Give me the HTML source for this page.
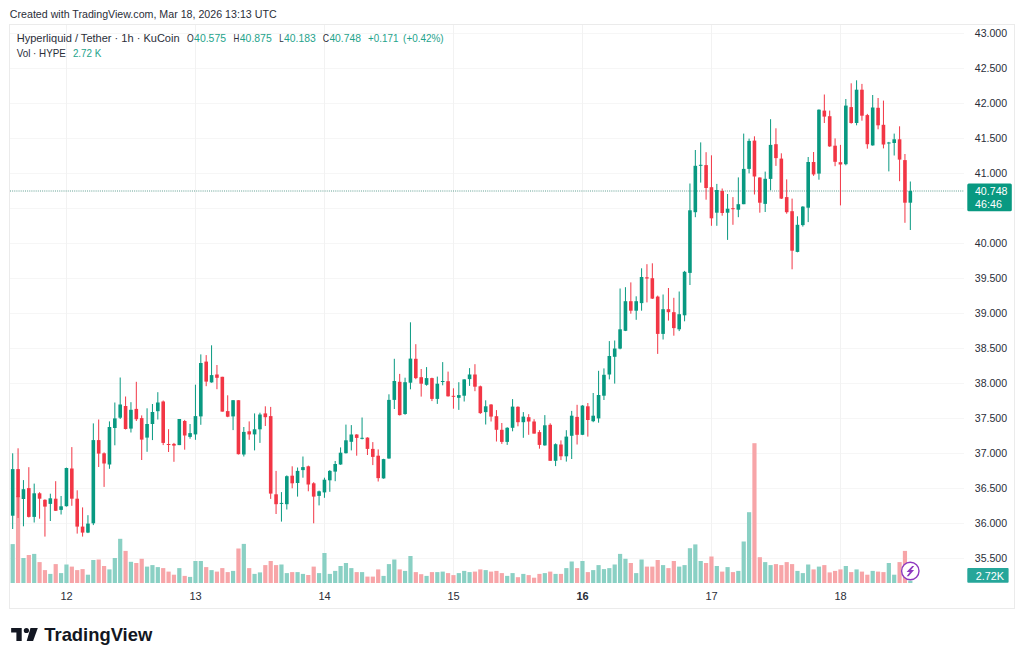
<!DOCTYPE html><html><head><meta charset="utf-8"><style>html,body{margin:0;padding:0;background:#fff;width:1024px;height:662px;overflow:hidden}svg{display:block}text{font-family:"Liberation Sans",sans-serif}</style></head><body>
<svg width="1024" height="662" viewBox="0 0 1024 662">
<rect width="1024" height="662" fill="#fff"/>
<text x="9.8" y="17.9" font-size="11" fill="#2a2e39" textLength="266.8" lengthAdjust="spacingAndGlyphs">Created with TradingView.com, Mar 18, 2026 13:13 UTC</text>
<rect x="9.5" y="24.5" width="1005" height="584" fill="none" stroke="#ebebeb" stroke-width="1"/>
<line x1="10" y1="33.5" x2="964" y2="33.5" stroke="#f6f6f6" stroke-width="1"/>
<line x1="10" y1="68.5" x2="964" y2="68.5" stroke="#f6f6f6" stroke-width="1"/>
<line x1="10" y1="103.5" x2="964" y2="103.5" stroke="#f6f6f6" stroke-width="1"/>
<line x1="10" y1="138.5" x2="964" y2="138.5" stroke="#f6f6f6" stroke-width="1"/>
<line x1="10" y1="173.5" x2="964" y2="173.5" stroke="#f6f6f6" stroke-width="1"/>
<line x1="10" y1="208.5" x2="964" y2="208.5" stroke="#f6f6f6" stroke-width="1"/>
<line x1="10" y1="243.5" x2="964" y2="243.5" stroke="#f6f6f6" stroke-width="1"/>
<line x1="10" y1="278.5" x2="964" y2="278.5" stroke="#f6f6f6" stroke-width="1"/>
<line x1="10" y1="313.5" x2="964" y2="313.5" stroke="#f6f6f6" stroke-width="1"/>
<line x1="10" y1="348.5" x2="964" y2="348.5" stroke="#f6f6f6" stroke-width="1"/>
<line x1="10" y1="383.5" x2="964" y2="383.5" stroke="#f6f6f6" stroke-width="1"/>
<line x1="10" y1="418.5" x2="964" y2="418.5" stroke="#f6f6f6" stroke-width="1"/>
<line x1="10" y1="453.5" x2="964" y2="453.5" stroke="#f6f6f6" stroke-width="1"/>
<line x1="10" y1="488.5" x2="964" y2="488.5" stroke="#f6f6f6" stroke-width="1"/>
<line x1="10" y1="523.5" x2="964" y2="523.5" stroke="#f6f6f6" stroke-width="1"/>
<line x1="10" y1="558.5" x2="964" y2="558.5" stroke="#f6f6f6" stroke-width="1"/>
<line x1="66.5" y1="25" x2="66.5" y2="584" stroke="#f2f2f2" stroke-width="1"/>
<line x1="195.5" y1="25" x2="195.5" y2="584" stroke="#f2f2f2" stroke-width="1"/>
<line x1="324.5" y1="25" x2="324.5" y2="584" stroke="#f2f2f2" stroke-width="1"/>
<line x1="453.5" y1="25" x2="453.5" y2="584" stroke="#f2f2f2" stroke-width="1"/>
<line x1="582.5" y1="25" x2="582.5" y2="584" stroke="#f2f2f2" stroke-width="1"/>
<line x1="711.5" y1="25" x2="711.5" y2="584" stroke="#f2f2f2" stroke-width="1"/>
<line x1="840.5" y1="25" x2="840.5" y2="584" stroke="#f2f2f2" stroke-width="1"/>
<rect x="10.60" y="544.10" width="4.2" height="38.90" fill="#8ad0c4"/>
<rect x="15.97" y="495.80" width="4.2" height="87.20" fill="#f7a5a8"/>
<rect x="21.35" y="558.00" width="4.2" height="25.00" fill="#8ad0c4"/>
<rect x="26.72" y="555.00" width="4.2" height="28.00" fill="#f7a5a8"/>
<rect x="32.10" y="553.90" width="4.2" height="29.10" fill="#8ad0c4"/>
<rect x="37.48" y="562.10" width="4.2" height="20.90" fill="#f7a5a8"/>
<rect x="42.85" y="570.10" width="4.2" height="12.90" fill="#f7a5a8"/>
<rect x="48.23" y="573.90" width="4.2" height="9.10" fill="#8ad0c4"/>
<rect x="53.60" y="564.10" width="4.2" height="18.90" fill="#f7a5a8"/>
<rect x="58.98" y="573.10" width="4.2" height="9.90" fill="#8ad0c4"/>
<rect x="64.35" y="564.50" width="4.2" height="18.50" fill="#8ad0c4"/>
<rect x="69.73" y="566.60" width="4.2" height="16.40" fill="#f7a5a8"/>
<rect x="75.10" y="570.10" width="4.2" height="12.90" fill="#f7a5a8"/>
<rect x="80.48" y="569.10" width="4.2" height="13.90" fill="#f7a5a8"/>
<rect x="85.85" y="574.70" width="4.2" height="8.30" fill="#8ad0c4"/>
<rect x="91.23" y="560.00" width="4.2" height="23.00" fill="#8ad0c4"/>
<rect x="96.60" y="559.50" width="4.2" height="23.50" fill="#f7a5a8"/>
<rect x="101.98" y="566.00" width="4.2" height="17.00" fill="#f7a5a8"/>
<rect x="107.35" y="569.40" width="4.2" height="13.60" fill="#8ad0c4"/>
<rect x="112.73" y="558.00" width="4.2" height="25.00" fill="#8ad0c4"/>
<rect x="118.10" y="538.80" width="4.2" height="44.20" fill="#8ad0c4"/>
<rect x="123.48" y="550.90" width="4.2" height="32.10" fill="#f7a5a8"/>
<rect x="128.85" y="561.80" width="4.2" height="21.20" fill="#8ad0c4"/>
<rect x="134.22" y="563.00" width="4.2" height="20.00" fill="#f7a5a8"/>
<rect x="139.60" y="558.80" width="4.2" height="24.20" fill="#f7a5a8"/>
<rect x="144.97" y="566.60" width="4.2" height="16.40" fill="#8ad0c4"/>
<rect x="150.35" y="565.10" width="4.2" height="17.90" fill="#8ad0c4"/>
<rect x="155.72" y="567.10" width="4.2" height="15.90" fill="#8ad0c4"/>
<rect x="161.10" y="568.10" width="4.2" height="14.90" fill="#f7a5a8"/>
<rect x="166.47" y="571.60" width="4.2" height="11.40" fill="#f7a5a8"/>
<rect x="171.85" y="574.70" width="4.2" height="8.30" fill="#f7a5a8"/>
<rect x="177.22" y="568.10" width="4.2" height="14.90" fill="#8ad0c4"/>
<rect x="182.60" y="575.90" width="4.2" height="7.10" fill="#f7a5a8"/>
<rect x="187.97" y="576.90" width="4.2" height="6.10" fill="#8ad0c4"/>
<rect x="193.35" y="561.00" width="4.2" height="22.00" fill="#8ad0c4"/>
<rect x="198.72" y="561.00" width="4.2" height="22.00" fill="#8ad0c4"/>
<rect x="204.10" y="567.10" width="4.2" height="15.90" fill="#f7a5a8"/>
<rect x="209.47" y="570.10" width="4.2" height="12.90" fill="#8ad0c4"/>
<rect x="214.85" y="571.60" width="4.2" height="11.40" fill="#f7a5a8"/>
<rect x="220.22" y="568.10" width="4.2" height="14.90" fill="#f7a5a8"/>
<rect x="225.60" y="572.10" width="4.2" height="10.90" fill="#f7a5a8"/>
<rect x="230.97" y="570.90" width="4.2" height="12.10" fill="#8ad0c4"/>
<rect x="236.35" y="548.50" width="4.2" height="34.50" fill="#f7a5a8"/>
<rect x="241.72" y="543.90" width="4.2" height="39.10" fill="#8ad0c4"/>
<rect x="247.10" y="568.10" width="4.2" height="14.90" fill="#f7a5a8"/>
<rect x="252.47" y="573.90" width="4.2" height="9.10" fill="#8ad0c4"/>
<rect x="257.85" y="572.40" width="4.2" height="10.60" fill="#8ad0c4"/>
<rect x="263.22" y="565.10" width="4.2" height="17.90" fill="#f7a5a8"/>
<rect x="268.60" y="561.00" width="4.2" height="22.00" fill="#f7a5a8"/>
<rect x="273.97" y="565.10" width="4.2" height="17.90" fill="#f7a5a8"/>
<rect x="279.35" y="564.50" width="4.2" height="18.50" fill="#8ad0c4"/>
<rect x="284.72" y="573.10" width="4.2" height="9.90" fill="#8ad0c4"/>
<rect x="290.10" y="572.10" width="4.2" height="10.90" fill="#f7a5a8"/>
<rect x="295.47" y="572.10" width="4.2" height="10.90" fill="#8ad0c4"/>
<rect x="300.85" y="573.90" width="4.2" height="9.10" fill="#8ad0c4"/>
<rect x="306.22" y="575.00" width="4.2" height="8.00" fill="#f7a5a8"/>
<rect x="311.60" y="566.60" width="4.2" height="16.40" fill="#f7a5a8"/>
<rect x="316.97" y="573.10" width="4.2" height="9.90" fill="#8ad0c4"/>
<rect x="322.35" y="553.00" width="4.2" height="30.00" fill="#8ad0c4"/>
<rect x="327.72" y="573.90" width="4.2" height="9.10" fill="#8ad0c4"/>
<rect x="333.10" y="570.90" width="4.2" height="12.10" fill="#8ad0c4"/>
<rect x="338.47" y="566.00" width="4.2" height="17.00" fill="#8ad0c4"/>
<rect x="343.85" y="563.00" width="4.2" height="20.00" fill="#8ad0c4"/>
<rect x="349.22" y="568.10" width="4.2" height="14.90" fill="#8ad0c4"/>
<rect x="354.60" y="572.10" width="4.2" height="10.90" fill="#f7a5a8"/>
<rect x="359.97" y="572.10" width="4.2" height="10.90" fill="#8ad0c4"/>
<rect x="365.35" y="576.60" width="4.2" height="6.40" fill="#f7a5a8"/>
<rect x="370.72" y="576.60" width="4.2" height="6.40" fill="#f7a5a8"/>
<rect x="376.10" y="569.40" width="4.2" height="13.60" fill="#f7a5a8"/>
<rect x="381.47" y="575.90" width="4.2" height="7.10" fill="#8ad0c4"/>
<rect x="386.85" y="564.10" width="4.2" height="18.90" fill="#8ad0c4"/>
<rect x="392.22" y="559.50" width="4.2" height="23.50" fill="#8ad0c4"/>
<rect x="397.60" y="569.40" width="4.2" height="13.60" fill="#f7a5a8"/>
<rect x="402.97" y="570.90" width="4.2" height="12.10" fill="#8ad0c4"/>
<rect x="408.35" y="556.00" width="4.2" height="27.00" fill="#8ad0c4"/>
<rect x="413.72" y="572.10" width="4.2" height="10.90" fill="#f7a5a8"/>
<rect x="419.10" y="574.20" width="4.2" height="8.80" fill="#f7a5a8"/>
<rect x="424.47" y="575.90" width="4.2" height="7.10" fill="#8ad0c4"/>
<rect x="429.85" y="572.10" width="4.2" height="10.90" fill="#f7a5a8"/>
<rect x="435.22" y="572.10" width="4.2" height="10.90" fill="#8ad0c4"/>
<rect x="440.60" y="571.60" width="4.2" height="11.40" fill="#8ad0c4"/>
<rect x="445.97" y="573.10" width="4.2" height="9.90" fill="#f7a5a8"/>
<rect x="451.35" y="575.10" width="4.2" height="7.90" fill="#f7a5a8"/>
<rect x="456.72" y="573.10" width="4.2" height="9.90" fill="#8ad0c4"/>
<rect x="462.10" y="570.90" width="4.2" height="12.10" fill="#8ad0c4"/>
<rect x="467.47" y="572.10" width="4.2" height="10.90" fill="#8ad0c4"/>
<rect x="472.85" y="571.60" width="4.2" height="11.40" fill="#f7a5a8"/>
<rect x="478.22" y="569.40" width="4.2" height="13.60" fill="#f7a5a8"/>
<rect x="483.60" y="570.10" width="4.2" height="12.90" fill="#8ad0c4"/>
<rect x="488.97" y="571.60" width="4.2" height="11.40" fill="#f7a5a8"/>
<rect x="494.35" y="570.90" width="4.2" height="12.10" fill="#f7a5a8"/>
<rect x="499.72" y="573.10" width="4.2" height="9.90" fill="#f7a5a8"/>
<rect x="505.10" y="575.90" width="4.2" height="7.10" fill="#8ad0c4"/>
<rect x="510.48" y="573.10" width="4.2" height="9.90" fill="#8ad0c4"/>
<rect x="515.85" y="577.20" width="4.2" height="5.80" fill="#f7a5a8"/>
<rect x="521.23" y="573.90" width="4.2" height="9.10" fill="#8ad0c4"/>
<rect x="526.60" y="575.10" width="4.2" height="7.90" fill="#f7a5a8"/>
<rect x="531.98" y="577.70" width="4.2" height="5.30" fill="#f7a5a8"/>
<rect x="537.35" y="573.90" width="4.2" height="9.10" fill="#f7a5a8"/>
<rect x="542.73" y="573.10" width="4.2" height="9.90" fill="#8ad0c4"/>
<rect x="548.10" y="571.60" width="4.2" height="11.40" fill="#f7a5a8"/>
<rect x="553.48" y="573.90" width="4.2" height="9.10" fill="#8ad0c4"/>
<rect x="558.85" y="573.90" width="4.2" height="9.10" fill="#f7a5a8"/>
<rect x="564.23" y="568.10" width="4.2" height="14.90" fill="#8ad0c4"/>
<rect x="569.60" y="561.50" width="4.2" height="21.50" fill="#8ad0c4"/>
<rect x="574.98" y="568.10" width="4.2" height="14.90" fill="#f7a5a8"/>
<rect x="580.35" y="561.00" width="4.2" height="22.00" fill="#8ad0c4"/>
<rect x="585.73" y="572.10" width="4.2" height="10.90" fill="#f7a5a8"/>
<rect x="591.10" y="570.10" width="4.2" height="12.90" fill="#8ad0c4"/>
<rect x="596.48" y="565.10" width="4.2" height="17.90" fill="#8ad0c4"/>
<rect x="601.85" y="569.10" width="4.2" height="13.90" fill="#8ad0c4"/>
<rect x="607.23" y="568.10" width="4.2" height="14.90" fill="#8ad0c4"/>
<rect x="612.60" y="564.50" width="4.2" height="18.50" fill="#8ad0c4"/>
<rect x="617.98" y="553.90" width="4.2" height="29.10" fill="#8ad0c4"/>
<rect x="623.35" y="558.80" width="4.2" height="24.20" fill="#8ad0c4"/>
<rect x="628.73" y="563.00" width="4.2" height="20.00" fill="#f7a5a8"/>
<rect x="634.10" y="573.10" width="4.2" height="9.90" fill="#8ad0c4"/>
<rect x="639.48" y="559.50" width="4.2" height="23.50" fill="#8ad0c4"/>
<rect x="644.85" y="566.60" width="4.2" height="16.40" fill="#f7a5a8"/>
<rect x="650.23" y="566.60" width="4.2" height="16.40" fill="#f7a5a8"/>
<rect x="655.60" y="560.00" width="4.2" height="23.00" fill="#f7a5a8"/>
<rect x="660.98" y="565.10" width="4.2" height="17.90" fill="#8ad0c4"/>
<rect x="666.35" y="568.10" width="4.2" height="14.90" fill="#f7a5a8"/>
<rect x="671.73" y="561.00" width="4.2" height="22.00" fill="#f7a5a8"/>
<rect x="677.10" y="566.60" width="4.2" height="16.40" fill="#8ad0c4"/>
<rect x="682.48" y="565.10" width="4.2" height="17.90" fill="#8ad0c4"/>
<rect x="687.85" y="548.20" width="4.2" height="34.80" fill="#8ad0c4"/>
<rect x="693.23" y="544.40" width="4.2" height="38.60" fill="#8ad0c4"/>
<rect x="698.60" y="561.00" width="4.2" height="22.00" fill="#8ad0c4"/>
<rect x="703.98" y="563.00" width="4.2" height="20.00" fill="#f7a5a8"/>
<rect x="709.35" y="556.50" width="4.2" height="26.50" fill="#f7a5a8"/>
<rect x="714.73" y="566.00" width="4.2" height="17.00" fill="#8ad0c4"/>
<rect x="720.10" y="571.60" width="4.2" height="11.40" fill="#f7a5a8"/>
<rect x="725.48" y="567.10" width="4.2" height="15.90" fill="#8ad0c4"/>
<rect x="730.85" y="572.10" width="4.2" height="10.90" fill="#f7a5a8"/>
<rect x="736.23" y="570.90" width="4.2" height="12.10" fill="#8ad0c4"/>
<rect x="741.60" y="541.50" width="4.2" height="41.50" fill="#8ad0c4"/>
<rect x="746.98" y="512.20" width="4.2" height="70.80" fill="#8ad0c4"/>
<rect x="752.35" y="443.20" width="4.2" height="139.80" fill="#f7a5a8"/>
<rect x="757.73" y="557.20" width="4.2" height="25.80" fill="#f7a5a8"/>
<rect x="763.10" y="562.10" width="4.2" height="20.90" fill="#8ad0c4"/>
<rect x="768.48" y="565.10" width="4.2" height="17.90" fill="#8ad0c4"/>
<rect x="773.85" y="564.10" width="4.2" height="18.90" fill="#f7a5a8"/>
<rect x="779.23" y="565.10" width="4.2" height="17.90" fill="#f7a5a8"/>
<rect x="784.60" y="562.10" width="4.2" height="20.90" fill="#f7a5a8"/>
<rect x="789.98" y="564.10" width="4.2" height="18.90" fill="#f7a5a8"/>
<rect x="795.35" y="570.90" width="4.2" height="12.10" fill="#8ad0c4"/>
<rect x="800.73" y="573.10" width="4.2" height="9.90" fill="#8ad0c4"/>
<rect x="806.10" y="564.50" width="4.2" height="18.50" fill="#8ad0c4"/>
<rect x="811.48" y="569.40" width="4.2" height="13.60" fill="#f7a5a8"/>
<rect x="816.85" y="566.60" width="4.2" height="16.40" fill="#8ad0c4"/>
<rect x="822.23" y="565.10" width="4.2" height="17.90" fill="#f7a5a8"/>
<rect x="827.60" y="572.40" width="4.2" height="10.60" fill="#f7a5a8"/>
<rect x="832.98" y="570.90" width="4.2" height="12.10" fill="#f7a5a8"/>
<rect x="838.35" y="569.40" width="4.2" height="13.60" fill="#f7a5a8"/>
<rect x="843.73" y="566.00" width="4.2" height="17.00" fill="#8ad0c4"/>
<rect x="849.10" y="572.10" width="4.2" height="10.90" fill="#f7a5a8"/>
<rect x="854.48" y="569.40" width="4.2" height="13.60" fill="#8ad0c4"/>
<rect x="859.85" y="571.60" width="4.2" height="11.40" fill="#f7a5a8"/>
<rect x="865.23" y="574.70" width="4.2" height="8.30" fill="#f7a5a8"/>
<rect x="870.60" y="570.90" width="4.2" height="12.10" fill="#8ad0c4"/>
<rect x="875.98" y="571.60" width="4.2" height="11.40" fill="#f7a5a8"/>
<rect x="881.35" y="572.10" width="4.2" height="10.90" fill="#f7a5a8"/>
<rect x="886.73" y="563.00" width="4.2" height="20.00" fill="#8ad0c4"/>
<rect x="892.10" y="574.70" width="4.2" height="8.30" fill="#8ad0c4"/>
<rect x="897.48" y="562.10" width="4.2" height="20.90" fill="#f7a5a8"/>
<rect x="902.85" y="550.90" width="4.2" height="32.10" fill="#f7a5a8"/>
<rect x="908.23" y="580.70" width="4.2" height="2.30" fill="#8ad0c4"/>
<line x1="10" y1="191" x2="964" y2="191" stroke="#5f9e91" stroke-width="1" stroke-dasharray="1 1.14"/>
<line x1="12.70" y1="453.30" x2="12.70" y2="529.00" stroke="#089981" stroke-width="1"/>
<rect x="10.90" y="469.10" width="3.6" height="46.60" fill="#089981"/>
<line x1="18.07" y1="448.30" x2="18.07" y2="518.00" stroke="#f23645" stroke-width="1"/>
<rect x="16.27" y="469.10" width="3.6" height="28.10" fill="#f23645"/>
<line x1="23.45" y1="480.10" x2="23.45" y2="526.30" stroke="#089981" stroke-width="1"/>
<rect x="21.65" y="489.20" width="3.6" height="9.80" fill="#089981"/>
<line x1="28.82" y1="467.20" x2="28.82" y2="517.50" stroke="#f23645" stroke-width="1"/>
<rect x="27.02" y="488.10" width="3.6" height="28.80" fill="#f23645"/>
<line x1="34.20" y1="483.60" x2="34.20" y2="522.50" stroke="#089981" stroke-width="1"/>
<rect x="32.40" y="493.30" width="3.6" height="23.60" fill="#089981"/>
<line x1="39.58" y1="492.20" x2="39.58" y2="518.70" stroke="#f23645" stroke-width="1"/>
<rect x="37.78" y="493.30" width="3.6" height="5.40" fill="#f23645"/>
<line x1="44.95" y1="499.30" x2="44.95" y2="536.60" stroke="#f23645" stroke-width="1"/>
<rect x="43.15" y="499.80" width="3.6" height="6.80" fill="#f23645"/>
<line x1="50.33" y1="493.70" x2="50.33" y2="521.00" stroke="#089981" stroke-width="1"/>
<rect x="48.53" y="498.30" width="3.6" height="5.60" fill="#089981"/>
<line x1="55.70" y1="481.20" x2="55.70" y2="511.00" stroke="#f23645" stroke-width="1"/>
<rect x="53.90" y="498.70" width="3.6" height="12.10" fill="#f23645"/>
<line x1="61.08" y1="496.00" x2="61.08" y2="514.50" stroke="#089981" stroke-width="1"/>
<rect x="59.28" y="506.30" width="3.6" height="3.60" fill="#089981"/>
<line x1="66.45" y1="467.60" x2="66.45" y2="506.60" stroke="#089981" stroke-width="1"/>
<rect x="64.65" y="468.00" width="3.6" height="38.20" fill="#089981"/>
<line x1="71.83" y1="447.10" x2="71.83" y2="505.80" stroke="#f23645" stroke-width="1"/>
<rect x="70.03" y="468.50" width="3.6" height="30.20" fill="#f23645"/>
<line x1="77.20" y1="490.30" x2="77.20" y2="533.60" stroke="#f23645" stroke-width="1"/>
<rect x="75.40" y="498.70" width="3.6" height="27.90" fill="#f23645"/>
<line x1="82.58" y1="507.40" x2="82.58" y2="536.60" stroke="#f23645" stroke-width="1"/>
<rect x="80.78" y="526.60" width="3.6" height="6.00" fill="#f23645"/>
<line x1="87.95" y1="515.20" x2="87.95" y2="533.10" stroke="#089981" stroke-width="1"/>
<rect x="86.15" y="523.60" width="3.6" height="9.00" fill="#089981"/>
<line x1="93.33" y1="423.40" x2="93.33" y2="525.10" stroke="#089981" stroke-width="1"/>
<rect x="91.53" y="440.10" width="3.6" height="83.20" fill="#089981"/>
<line x1="98.70" y1="419.50" x2="98.70" y2="467.00" stroke="#f23645" stroke-width="1"/>
<rect x="96.90" y="440.10" width="3.6" height="13.50" fill="#f23645"/>
<line x1="104.08" y1="452.40" x2="104.08" y2="486.90" stroke="#f23645" stroke-width="1"/>
<rect x="102.28" y="453.30" width="3.6" height="10.20" fill="#f23645"/>
<line x1="109.45" y1="421.40" x2="109.45" y2="468.80" stroke="#089981" stroke-width="1"/>
<rect x="107.65" y="427.00" width="3.6" height="37.50" fill="#089981"/>
<line x1="114.83" y1="402.50" x2="114.83" y2="445.30" stroke="#089981" stroke-width="1"/>
<rect x="113.03" y="418.40" width="3.6" height="9.60" fill="#089981"/>
<line x1="120.20" y1="377.50" x2="120.20" y2="419.00" stroke="#089981" stroke-width="1"/>
<rect x="118.40" y="404.50" width="3.6" height="13.20" fill="#089981"/>
<line x1="125.58" y1="396.50" x2="125.58" y2="429.50" stroke="#f23645" stroke-width="1"/>
<rect x="123.78" y="406.00" width="3.6" height="23.00" fill="#f23645"/>
<line x1="130.95" y1="402.20" x2="130.95" y2="432.50" stroke="#089981" stroke-width="1"/>
<rect x="129.15" y="409.80" width="3.6" height="18.80" fill="#089981"/>
<line x1="136.32" y1="381.80" x2="136.32" y2="421.00" stroke="#f23645" stroke-width="1"/>
<rect x="134.52" y="408.90" width="3.6" height="10.30" fill="#f23645"/>
<line x1="141.70" y1="415.40" x2="141.70" y2="460.00" stroke="#f23645" stroke-width="1"/>
<rect x="139.90" y="418.10" width="3.6" height="21.50" fill="#f23645"/>
<line x1="147.07" y1="408.30" x2="147.07" y2="451.80" stroke="#089981" stroke-width="1"/>
<rect x="145.27" y="424.00" width="3.6" height="13.60" fill="#089981"/>
<line x1="152.45" y1="404.00" x2="152.45" y2="440.10" stroke="#089981" stroke-width="1"/>
<rect x="150.65" y="412.00" width="3.6" height="12.00" fill="#089981"/>
<line x1="157.82" y1="392.20" x2="157.82" y2="419.50" stroke="#089981" stroke-width="1"/>
<rect x="156.02" y="402.50" width="3.6" height="8.70" fill="#089981"/>
<line x1="163.20" y1="400.50" x2="163.20" y2="445.10" stroke="#f23645" stroke-width="1"/>
<rect x="161.40" y="401.50" width="3.6" height="41.40" fill="#f23645"/>
<line x1="168.57" y1="429.20" x2="168.57" y2="452.00" stroke="#f23645" stroke-width="1"/>
<rect x="166.77" y="444.00" width="3.6" height="1.00" fill="#f23645"/>
<line x1="173.95" y1="442.90" x2="173.95" y2="461.80" stroke="#f23645" stroke-width="1"/>
<rect x="172.15" y="443.90" width="3.6" height="1.70" fill="#f23645"/>
<line x1="179.32" y1="419.00" x2="179.32" y2="445.10" stroke="#089981" stroke-width="1"/>
<rect x="177.52" y="419.00" width="3.6" height="26.10" fill="#089981"/>
<line x1="184.70" y1="419.90" x2="184.70" y2="449.70" stroke="#f23645" stroke-width="1"/>
<rect x="182.90" y="421.00" width="3.6" height="14.50" fill="#f23645"/>
<line x1="190.07" y1="424.00" x2="190.07" y2="438.70" stroke="#089981" stroke-width="1"/>
<rect x="188.27" y="433.10" width="3.6" height="3.80" fill="#089981"/>
<line x1="195.45" y1="384.70" x2="195.45" y2="439.80" stroke="#089981" stroke-width="1"/>
<rect x="193.65" y="416.10" width="3.6" height="18.30" fill="#089981"/>
<line x1="200.82" y1="354.40" x2="200.82" y2="424.80" stroke="#089981" stroke-width="1"/>
<rect x="199.02" y="363.00" width="3.6" height="53.40" fill="#089981"/>
<line x1="206.20" y1="355.10" x2="206.20" y2="386.20" stroke="#f23645" stroke-width="1"/>
<rect x="204.40" y="361.60" width="3.6" height="20.00" fill="#f23645"/>
<line x1="211.57" y1="345.30" x2="211.57" y2="382.70" stroke="#089981" stroke-width="1"/>
<rect x="209.77" y="375.10" width="3.6" height="7.30" fill="#089981"/>
<line x1="216.95" y1="365.00" x2="216.95" y2="389.20" stroke="#f23645" stroke-width="1"/>
<rect x="215.15" y="374.50" width="3.6" height="3.30" fill="#f23645"/>
<line x1="222.32" y1="376.80" x2="222.32" y2="411.60" stroke="#f23645" stroke-width="1"/>
<rect x="220.52" y="376.80" width="3.6" height="34.80" fill="#f23645"/>
<line x1="227.70" y1="395.30" x2="227.70" y2="417.20" stroke="#f23645" stroke-width="1"/>
<rect x="225.90" y="411.10" width="3.6" height="5.60" fill="#f23645"/>
<line x1="233.07" y1="400.20" x2="233.07" y2="430.10" stroke="#089981" stroke-width="1"/>
<rect x="231.27" y="400.20" width="3.6" height="16.20" fill="#089981"/>
<line x1="238.45" y1="400.20" x2="238.45" y2="454.50" stroke="#f23645" stroke-width="1"/>
<rect x="236.65" y="400.20" width="3.6" height="54.00" fill="#f23645"/>
<line x1="243.82" y1="427.00" x2="243.82" y2="456.50" stroke="#089981" stroke-width="1"/>
<rect x="242.02" y="431.90" width="3.6" height="22.60" fill="#089981"/>
<line x1="249.20" y1="421.40" x2="249.20" y2="439.80" stroke="#f23645" stroke-width="1"/>
<rect x="247.40" y="431.30" width="3.6" height="3.10" fill="#f23645"/>
<line x1="254.57" y1="413.40" x2="254.57" y2="450.40" stroke="#089981" stroke-width="1"/>
<rect x="252.77" y="429.30" width="3.6" height="5.10" fill="#089981"/>
<line x1="259.95" y1="412.70" x2="259.95" y2="442.90" stroke="#089981" stroke-width="1"/>
<rect x="258.15" y="414.50" width="3.6" height="14.80" fill="#089981"/>
<line x1="265.32" y1="406.30" x2="265.32" y2="426.00" stroke="#f23645" stroke-width="1"/>
<rect x="263.52" y="413.40" width="3.6" height="3.80" fill="#f23645"/>
<line x1="270.70" y1="406.90" x2="270.70" y2="498.90" stroke="#f23645" stroke-width="1"/>
<rect x="268.90" y="416.10" width="3.6" height="77.50" fill="#f23645"/>
<line x1="276.07" y1="470.90" x2="276.07" y2="514.00" stroke="#f23645" stroke-width="1"/>
<rect x="274.27" y="494.30" width="3.6" height="9.90" fill="#f23645"/>
<line x1="281.45" y1="492.10" x2="281.45" y2="521.60" stroke="#089981" stroke-width="1"/>
<rect x="279.65" y="502.90" width="3.6" height="1.00" fill="#089981"/>
<line x1="286.82" y1="475.40" x2="286.82" y2="509.50" stroke="#089981" stroke-width="1"/>
<rect x="285.02" y="476.20" width="3.6" height="28.00" fill="#089981"/>
<line x1="292.20" y1="466.30" x2="292.20" y2="488.30" stroke="#f23645" stroke-width="1"/>
<rect x="290.40" y="475.70" width="3.6" height="7.60" fill="#f23645"/>
<line x1="297.57" y1="467.50" x2="297.57" y2="496.60" stroke="#089981" stroke-width="1"/>
<rect x="295.77" y="470.90" width="3.6" height="12.10" fill="#089981"/>
<line x1="302.95" y1="456.50" x2="302.95" y2="477.70" stroke="#089981" stroke-width="1"/>
<rect x="301.15" y="467.10" width="3.6" height="3.00" fill="#089981"/>
<line x1="308.32" y1="465.60" x2="308.32" y2="491.30" stroke="#f23645" stroke-width="1"/>
<rect x="306.52" y="466.30" width="3.6" height="18.20" fill="#f23645"/>
<line x1="313.70" y1="482.20" x2="313.70" y2="523.30" stroke="#f23645" stroke-width="1"/>
<rect x="311.90" y="483.30" width="3.6" height="13.30" fill="#f23645"/>
<line x1="319.07" y1="490.60" x2="319.07" y2="505.40" stroke="#089981" stroke-width="1"/>
<rect x="317.27" y="491.30" width="3.6" height="4.60" fill="#089981"/>
<line x1="324.45" y1="477.70" x2="324.45" y2="497.80" stroke="#089981" stroke-width="1"/>
<rect x="322.65" y="479.70" width="3.6" height="12.70" fill="#089981"/>
<line x1="329.82" y1="470.10" x2="329.82" y2="491.80" stroke="#089981" stroke-width="1"/>
<rect x="328.02" y="470.90" width="3.6" height="9.40" fill="#089981"/>
<line x1="335.20" y1="461.00" x2="335.20" y2="481.20" stroke="#089981" stroke-width="1"/>
<rect x="333.40" y="464.00" width="3.6" height="7.60" fill="#089981"/>
<line x1="340.57" y1="447.40" x2="340.57" y2="464.80" stroke="#089981" stroke-width="1"/>
<rect x="338.77" y="452.70" width="3.6" height="11.80" fill="#089981"/>
<line x1="345.95" y1="424.60" x2="345.95" y2="453.50" stroke="#089981" stroke-width="1"/>
<rect x="344.15" y="440.30" width="3.6" height="12.90" fill="#089981"/>
<line x1="351.32" y1="425.10" x2="351.32" y2="450.40" stroke="#089981" stroke-width="1"/>
<rect x="349.52" y="434.50" width="3.6" height="7.30" fill="#089981"/>
<line x1="356.70" y1="434.20" x2="356.70" y2="455.70" stroke="#f23645" stroke-width="1"/>
<rect x="354.90" y="434.50" width="3.6" height="3.40" fill="#f23645"/>
<line x1="362.07" y1="417.50" x2="362.07" y2="439.40" stroke="#089981" stroke-width="1"/>
<rect x="360.27" y="437.80" width="3.6" height="1.00" fill="#089981"/>
<line x1="367.45" y1="437.30" x2="367.45" y2="455.00" stroke="#f23645" stroke-width="1"/>
<rect x="365.65" y="437.60" width="3.6" height="11.30" fill="#f23645"/>
<line x1="372.82" y1="442.10" x2="372.82" y2="465.10" stroke="#f23645" stroke-width="1"/>
<rect x="371.02" y="448.90" width="3.6" height="8.00" fill="#f23645"/>
<line x1="378.20" y1="449.40" x2="378.20" y2="481.50" stroke="#f23645" stroke-width="1"/>
<rect x="376.40" y="455.70" width="3.6" height="22.40" fill="#f23645"/>
<line x1="383.57" y1="458.80" x2="383.57" y2="478.70" stroke="#089981" stroke-width="1"/>
<rect x="381.77" y="459.10" width="3.6" height="19.30" fill="#089981"/>
<line x1="388.95" y1="394.30" x2="388.95" y2="458.80" stroke="#089981" stroke-width="1"/>
<rect x="387.15" y="399.90" width="3.6" height="58.60" fill="#089981"/>
<line x1="394.32" y1="358.80" x2="394.32" y2="409.00" stroke="#089981" stroke-width="1"/>
<rect x="392.52" y="381.00" width="3.6" height="18.90" fill="#089981"/>
<line x1="399.70" y1="373.90" x2="399.70" y2="415.50" stroke="#f23645" stroke-width="1"/>
<rect x="397.90" y="381.80" width="3.6" height="33.30" fill="#f23645"/>
<line x1="405.07" y1="377.70" x2="405.07" y2="414.80" stroke="#089981" stroke-width="1"/>
<rect x="403.27" y="382.20" width="3.6" height="31.80" fill="#089981"/>
<line x1="410.45" y1="322.30" x2="410.45" y2="389.30" stroke="#089981" stroke-width="1"/>
<rect x="408.65" y="358.60" width="3.6" height="24.10" fill="#089981"/>
<line x1="415.82" y1="344.20" x2="415.82" y2="379.20" stroke="#f23645" stroke-width="1"/>
<rect x="414.02" y="358.80" width="3.6" height="19.30" fill="#f23645"/>
<line x1="421.20" y1="369.00" x2="421.20" y2="396.60" stroke="#f23645" stroke-width="1"/>
<rect x="419.40" y="377.20" width="3.6" height="6.50" fill="#f23645"/>
<line x1="426.57" y1="367.10" x2="426.57" y2="385.70" stroke="#089981" stroke-width="1"/>
<rect x="424.77" y="378.10" width="3.6" height="6.70" fill="#089981"/>
<line x1="431.95" y1="377.70" x2="431.95" y2="401.10" stroke="#f23645" stroke-width="1"/>
<rect x="430.15" y="378.10" width="3.6" height="20.80" fill="#f23645"/>
<line x1="437.32" y1="376.60" x2="437.32" y2="403.90" stroke="#089981" stroke-width="1"/>
<rect x="435.52" y="383.70" width="3.6" height="15.20" fill="#089981"/>
<line x1="442.70" y1="362.10" x2="442.70" y2="385.30" stroke="#089981" stroke-width="1"/>
<rect x="440.90" y="381.00" width="3.6" height="1.00" fill="#089981"/>
<line x1="448.07" y1="371.60" x2="448.07" y2="396.60" stroke="#f23645" stroke-width="1"/>
<rect x="446.27" y="381.20" width="3.6" height="15.10" fill="#f23645"/>
<line x1="453.45" y1="388.30" x2="453.45" y2="408.70" stroke="#f23645" stroke-width="1"/>
<rect x="451.65" y="395.80" width="3.6" height="1.00" fill="#f23645"/>
<line x1="458.82" y1="382.20" x2="458.82" y2="409.90" stroke="#089981" stroke-width="1"/>
<rect x="457.02" y="395.10" width="3.6" height="2.70" fill="#089981"/>
<line x1="464.20" y1="379.20" x2="464.20" y2="401.50" stroke="#089981" stroke-width="1"/>
<rect x="462.40" y="379.40" width="3.6" height="16.30" fill="#089981"/>
<line x1="469.57" y1="368.10" x2="469.57" y2="385.90" stroke="#089981" stroke-width="1"/>
<rect x="467.77" y="374.50" width="3.6" height="4.60" fill="#089981"/>
<line x1="474.95" y1="364.20" x2="474.95" y2="391.20" stroke="#f23645" stroke-width="1"/>
<rect x="473.15" y="374.50" width="3.6" height="12.20" fill="#f23645"/>
<line x1="480.32" y1="385.60" x2="480.32" y2="413.90" stroke="#f23645" stroke-width="1"/>
<rect x="478.52" y="386.30" width="3.6" height="26.80" fill="#f23645"/>
<line x1="485.70" y1="400.30" x2="485.70" y2="424.50" stroke="#089981" stroke-width="1"/>
<rect x="483.90" y="406.30" width="3.6" height="5.80" fill="#089981"/>
<line x1="491.07" y1="404.10" x2="491.07" y2="421.50" stroke="#f23645" stroke-width="1"/>
<rect x="489.27" y="404.50" width="3.6" height="12.10" fill="#f23645"/>
<line x1="496.45" y1="410.10" x2="496.45" y2="441.50" stroke="#f23645" stroke-width="1"/>
<rect x="494.65" y="416.20" width="3.6" height="13.60" fill="#f23645"/>
<line x1="501.82" y1="423.00" x2="501.82" y2="443.90" stroke="#f23645" stroke-width="1"/>
<rect x="500.02" y="429.80" width="3.6" height="12.10" fill="#f23645"/>
<line x1="507.20" y1="427.20" x2="507.20" y2="444.90" stroke="#089981" stroke-width="1"/>
<rect x="505.40" y="427.80" width="3.6" height="14.10" fill="#089981"/>
<line x1="512.58" y1="399.10" x2="512.58" y2="431.30" stroke="#089981" stroke-width="1"/>
<rect x="510.78" y="406.60" width="3.6" height="21.20" fill="#089981"/>
<line x1="517.95" y1="406.30" x2="517.95" y2="426.30" stroke="#f23645" stroke-width="1"/>
<rect x="516.15" y="406.80" width="3.6" height="15.40" fill="#f23645"/>
<line x1="523.33" y1="412.10" x2="523.33" y2="437.80" stroke="#089981" stroke-width="1"/>
<rect x="521.53" y="416.60" width="3.6" height="5.60" fill="#089981"/>
<line x1="528.70" y1="414.20" x2="528.70" y2="434.80" stroke="#f23645" stroke-width="1"/>
<rect x="526.90" y="417.20" width="3.6" height="4.30" fill="#f23645"/>
<line x1="534.08" y1="419.20" x2="534.08" y2="433.60" stroke="#f23645" stroke-width="1"/>
<rect x="532.28" y="421.50" width="3.6" height="12.10" fill="#f23645"/>
<line x1="539.45" y1="430.20" x2="539.45" y2="448.70" stroke="#f23645" stroke-width="1"/>
<rect x="537.65" y="432.10" width="3.6" height="12.80" fill="#f23645"/>
<line x1="544.83" y1="415.10" x2="544.83" y2="445.70" stroke="#089981" stroke-width="1"/>
<rect x="543.03" y="425.30" width="3.6" height="20.10" fill="#089981"/>
<line x1="550.20" y1="423.30" x2="550.20" y2="460.80" stroke="#f23645" stroke-width="1"/>
<rect x="548.40" y="424.80" width="3.6" height="36.00" fill="#f23645"/>
<line x1="555.58" y1="443.40" x2="555.58" y2="466.10" stroke="#089981" stroke-width="1"/>
<rect x="553.78" y="444.20" width="3.6" height="16.60" fill="#089981"/>
<line x1="560.95" y1="440.40" x2="560.95" y2="460.10" stroke="#f23645" stroke-width="1"/>
<rect x="559.15" y="444.50" width="3.6" height="11.80" fill="#f23645"/>
<line x1="566.33" y1="430.20" x2="566.33" y2="461.60" stroke="#089981" stroke-width="1"/>
<rect x="564.53" y="436.60" width="3.6" height="19.70" fill="#089981"/>
<line x1="571.70" y1="410.90" x2="571.70" y2="459.00" stroke="#089981" stroke-width="1"/>
<rect x="569.90" y="415.70" width="3.6" height="20.10" fill="#089981"/>
<line x1="577.08" y1="404.80" x2="577.08" y2="444.50" stroke="#f23645" stroke-width="1"/>
<rect x="575.28" y="416.90" width="3.6" height="17.90" fill="#f23645"/>
<line x1="582.45" y1="405.10" x2="582.45" y2="435.10" stroke="#089981" stroke-width="1"/>
<rect x="580.65" y="405.60" width="3.6" height="29.20" fill="#089981"/>
<line x1="587.83" y1="403.00" x2="587.83" y2="436.60" stroke="#f23645" stroke-width="1"/>
<rect x="586.03" y="406.30" width="3.6" height="13.70" fill="#f23645"/>
<line x1="593.20" y1="393.00" x2="593.20" y2="422.20" stroke="#089981" stroke-width="1"/>
<rect x="591.40" y="415.70" width="3.6" height="5.50" fill="#089981"/>
<line x1="598.58" y1="370.80" x2="598.58" y2="422.70" stroke="#089981" stroke-width="1"/>
<rect x="596.78" y="395.00" width="3.6" height="23.40" fill="#089981"/>
<line x1="603.95" y1="368.40" x2="603.95" y2="400.00" stroke="#089981" stroke-width="1"/>
<rect x="602.15" y="374.80" width="3.6" height="20.90" fill="#089981"/>
<line x1="609.33" y1="341.10" x2="609.33" y2="379.40" stroke="#089981" stroke-width="1"/>
<rect x="607.53" y="356.00" width="3.6" height="18.50" fill="#089981"/>
<line x1="614.70" y1="340.50" x2="614.70" y2="383.60" stroke="#089981" stroke-width="1"/>
<rect x="612.90" y="348.50" width="3.6" height="8.30" fill="#089981"/>
<line x1="620.08" y1="288.50" x2="620.08" y2="349.30" stroke="#089981" stroke-width="1"/>
<rect x="618.28" y="329.30" width="3.6" height="19.30" fill="#089981"/>
<line x1="625.45" y1="287.20" x2="625.45" y2="331.10" stroke="#089981" stroke-width="1"/>
<rect x="623.65" y="301.20" width="3.6" height="29.60" fill="#089981"/>
<line x1="630.83" y1="282.40" x2="630.83" y2="313.70" stroke="#f23645" stroke-width="1"/>
<rect x="629.03" y="301.20" width="3.6" height="9.50" fill="#f23645"/>
<line x1="636.20" y1="296.30" x2="636.20" y2="319.80" stroke="#089981" stroke-width="1"/>
<rect x="634.40" y="301.20" width="3.6" height="9.50" fill="#089981"/>
<line x1="641.58" y1="268.30" x2="641.58" y2="310.70" stroke="#089981" stroke-width="1"/>
<rect x="639.78" y="277.00" width="3.6" height="26.10" fill="#089981"/>
<line x1="646.95" y1="264.20" x2="646.95" y2="302.40" stroke="#f23645" stroke-width="1"/>
<rect x="645.15" y="277.30" width="3.6" height="1.20" fill="#f23645"/>
<line x1="652.33" y1="263.30" x2="652.33" y2="299.00" stroke="#f23645" stroke-width="1"/>
<rect x="650.53" y="278.20" width="3.6" height="20.40" fill="#f23645"/>
<line x1="657.70" y1="295.60" x2="657.70" y2="353.90" stroke="#f23645" stroke-width="1"/>
<rect x="655.90" y="296.60" width="3.6" height="37.30" fill="#f23645"/>
<line x1="663.08" y1="294.50" x2="663.08" y2="339.50" stroke="#089981" stroke-width="1"/>
<rect x="661.28" y="309.20" width="3.6" height="24.70" fill="#089981"/>
<line x1="668.45" y1="288.00" x2="668.45" y2="320.60" stroke="#f23645" stroke-width="1"/>
<rect x="666.65" y="309.20" width="3.6" height="3.00" fill="#f23645"/>
<line x1="673.83" y1="297.80" x2="673.83" y2="335.70" stroke="#f23645" stroke-width="1"/>
<rect x="672.03" y="312.20" width="3.6" height="15.90" fill="#f23645"/>
<line x1="679.20" y1="291.50" x2="679.20" y2="331.10" stroke="#089981" stroke-width="1"/>
<rect x="677.40" y="314.20" width="3.6" height="15.10" fill="#089981"/>
<line x1="684.58" y1="270.90" x2="684.58" y2="321.30" stroke="#089981" stroke-width="1"/>
<rect x="682.78" y="271.80" width="3.6" height="43.50" fill="#089981"/>
<line x1="689.95" y1="183.50" x2="689.95" y2="285.00" stroke="#089981" stroke-width="1"/>
<rect x="688.15" y="210.30" width="3.6" height="62.60" fill="#089981"/>
<line x1="695.33" y1="150.00" x2="695.33" y2="217.20" stroke="#089981" stroke-width="1"/>
<rect x="693.53" y="165.80" width="3.6" height="46.40" fill="#089981"/>
<line x1="700.70" y1="142.40" x2="700.70" y2="182.60" stroke="#089981" stroke-width="1"/>
<rect x="698.90" y="164.80" width="3.6" height="1.00" fill="#089981"/>
<line x1="706.08" y1="152.20" x2="706.08" y2="199.70" stroke="#f23645" stroke-width="1"/>
<rect x="704.28" y="165.10" width="3.6" height="22.90" fill="#f23645"/>
<line x1="711.45" y1="155.30" x2="711.45" y2="225.80" stroke="#f23645" stroke-width="1"/>
<rect x="709.65" y="187.20" width="3.6" height="31.10" fill="#f23645"/>
<line x1="716.83" y1="183.90" x2="716.83" y2="225.80" stroke="#089981" stroke-width="1"/>
<rect x="715.03" y="190.00" width="3.6" height="22.70" fill="#089981"/>
<line x1="722.20" y1="188.50" x2="722.20" y2="215.70" stroke="#f23645" stroke-width="1"/>
<rect x="720.40" y="191.00" width="3.6" height="22.00" fill="#f23645"/>
<line x1="727.58" y1="194.00" x2="727.58" y2="239.90" stroke="#089981" stroke-width="1"/>
<rect x="725.78" y="208.70" width="3.6" height="4.00" fill="#089981"/>
<line x1="732.95" y1="197.10" x2="732.95" y2="224.80" stroke="#f23645" stroke-width="1"/>
<rect x="731.15" y="208.20" width="3.6" height="1.00" fill="#f23645"/>
<line x1="738.33" y1="177.40" x2="738.33" y2="217.20" stroke="#089981" stroke-width="1"/>
<rect x="736.53" y="204.20" width="3.6" height="5.50" fill="#089981"/>
<line x1="743.70" y1="133.60" x2="743.70" y2="204.20" stroke="#089981" stroke-width="1"/>
<rect x="741.90" y="168.90" width="3.6" height="35.30" fill="#089981"/>
<line x1="749.08" y1="138.60" x2="749.08" y2="173.40" stroke="#089981" stroke-width="1"/>
<rect x="747.28" y="140.90" width="3.6" height="28.00" fill="#089981"/>
<line x1="754.45" y1="136.30" x2="754.45" y2="194.50" stroke="#f23645" stroke-width="1"/>
<rect x="752.65" y="140.60" width="3.6" height="35.90" fill="#f23645"/>
<line x1="759.83" y1="177.30" x2="759.83" y2="212.70" stroke="#f23645" stroke-width="1"/>
<rect x="758.03" y="177.50" width="3.6" height="25.20" fill="#f23645"/>
<line x1="765.20" y1="171.60" x2="765.20" y2="212.00" stroke="#089981" stroke-width="1"/>
<rect x="763.40" y="178.80" width="3.6" height="25.10" fill="#089981"/>
<line x1="770.58" y1="119.20" x2="770.58" y2="190.30" stroke="#089981" stroke-width="1"/>
<rect x="768.78" y="144.90" width="3.6" height="34.00" fill="#089981"/>
<line x1="775.95" y1="128.30" x2="775.95" y2="165.90" stroke="#f23645" stroke-width="1"/>
<rect x="774.15" y="144.20" width="3.6" height="13.90" fill="#f23645"/>
<line x1="781.33" y1="153.30" x2="781.33" y2="199.00" stroke="#f23645" stroke-width="1"/>
<rect x="779.53" y="158.60" width="3.6" height="40.00" fill="#f23645"/>
<line x1="786.70" y1="179.40" x2="786.70" y2="213.70" stroke="#f23645" stroke-width="1"/>
<rect x="784.90" y="197.10" width="3.6" height="15.10" fill="#f23645"/>
<line x1="792.08" y1="198.60" x2="792.08" y2="269.30" stroke="#f23645" stroke-width="1"/>
<rect x="790.28" y="211.20" width="3.6" height="39.50" fill="#f23645"/>
<line x1="797.45" y1="216.30" x2="797.45" y2="252.30" stroke="#089981" stroke-width="1"/>
<rect x="795.65" y="224.80" width="3.6" height="27.10" fill="#089981"/>
<line x1="802.83" y1="206.20" x2="802.83" y2="226.60" stroke="#089981" stroke-width="1"/>
<rect x="801.03" y="206.60" width="3.6" height="18.50" fill="#089981"/>
<line x1="808.20" y1="157.00" x2="808.20" y2="222.10" stroke="#089981" stroke-width="1"/>
<rect x="806.40" y="162.00" width="3.6" height="45.70" fill="#089981"/>
<line x1="813.58" y1="152.00" x2="813.58" y2="175.90" stroke="#f23645" stroke-width="1"/>
<rect x="811.78" y="162.00" width="3.6" height="12.40" fill="#f23645"/>
<line x1="818.95" y1="109.40" x2="818.95" y2="179.70" stroke="#089981" stroke-width="1"/>
<rect x="817.15" y="109.70" width="3.6" height="63.90" fill="#089981"/>
<line x1="824.33" y1="94.50" x2="824.33" y2="123.00" stroke="#f23645" stroke-width="1"/>
<rect x="822.53" y="110.60" width="3.6" height="6.00" fill="#f23645"/>
<line x1="829.70" y1="110.60" x2="829.70" y2="146.90" stroke="#f23645" stroke-width="1"/>
<rect x="827.90" y="116.20" width="3.6" height="30.20" fill="#f23645"/>
<line x1="835.08" y1="138.40" x2="835.08" y2="166.20" stroke="#f23645" stroke-width="1"/>
<rect x="833.28" y="145.70" width="3.6" height="16.10" fill="#f23645"/>
<line x1="840.45" y1="144.90" x2="840.45" y2="205.40" stroke="#f23645" stroke-width="1"/>
<rect x="838.65" y="162.20" width="3.6" height="2.30" fill="#f23645"/>
<line x1="845.83" y1="99.00" x2="845.83" y2="165.30" stroke="#089981" stroke-width="1"/>
<rect x="844.03" y="105.60" width="3.6" height="58.60" fill="#089981"/>
<line x1="851.20" y1="83.30" x2="851.20" y2="123.70" stroke="#f23645" stroke-width="1"/>
<rect x="849.40" y="107.10" width="3.6" height="15.90" fill="#f23645"/>
<line x1="856.58" y1="80.30" x2="856.58" y2="125.30" stroke="#089981" stroke-width="1"/>
<rect x="854.78" y="89.70" width="3.6" height="33.30" fill="#089981"/>
<line x1="861.95" y1="83.90" x2="861.95" y2="120.70" stroke="#f23645" stroke-width="1"/>
<rect x="860.15" y="89.70" width="3.6" height="26.00" fill="#f23645"/>
<line x1="867.33" y1="113.90" x2="867.33" y2="148.70" stroke="#f23645" stroke-width="1"/>
<rect x="865.53" y="115.10" width="3.6" height="29.10" fill="#f23645"/>
<line x1="872.70" y1="95.00" x2="872.70" y2="145.70" stroke="#089981" stroke-width="1"/>
<rect x="870.90" y="107.50" width="3.6" height="37.90" fill="#089981"/>
<line x1="878.08" y1="98.00" x2="878.08" y2="129.30" stroke="#f23645" stroke-width="1"/>
<rect x="876.28" y="107.80" width="3.6" height="17.50" fill="#f23645"/>
<line x1="883.45" y1="100.60" x2="883.45" y2="148.40" stroke="#f23645" stroke-width="1"/>
<rect x="881.65" y="124.80" width="3.6" height="19.70" fill="#f23645"/>
<line x1="888.83" y1="141.90" x2="888.83" y2="171.40" stroke="#089981" stroke-width="1"/>
<rect x="887.03" y="142.50" width="3.6" height="1.00" fill="#089981"/>
<line x1="894.20" y1="133.60" x2="894.20" y2="155.50" stroke="#089981" stroke-width="1"/>
<rect x="892.40" y="139.30" width="3.6" height="3.70" fill="#089981"/>
<line x1="899.58" y1="126.30" x2="899.58" y2="181.20" stroke="#f23645" stroke-width="1"/>
<rect x="897.78" y="139.30" width="3.6" height="20.30" fill="#f23645"/>
<line x1="904.95" y1="154.00" x2="904.95" y2="222.80" stroke="#f23645" stroke-width="1"/>
<rect x="903.15" y="160.10" width="3.6" height="42.60" fill="#f23645"/>
<line x1="910.33" y1="181.50" x2="910.33" y2="230.00" stroke="#089981" stroke-width="1"/>
<rect x="908.53" y="191.00" width="3.6" height="11.70" fill="#089981"/>
<text x="1007.1" y="37.0" font-size="11" fill="#2a2e39" text-anchor="end" textLength="32.3" lengthAdjust="spacingAndGlyphs">43.000</text>
<text x="1007.1" y="72.0" font-size="11" fill="#2a2e39" text-anchor="end" textLength="32.3" lengthAdjust="spacingAndGlyphs">42.500</text>
<text x="1007.1" y="107.0" font-size="11" fill="#2a2e39" text-anchor="end" textLength="32.3" lengthAdjust="spacingAndGlyphs">42.000</text>
<text x="1007.1" y="142.0" font-size="11" fill="#2a2e39" text-anchor="end" textLength="32.3" lengthAdjust="spacingAndGlyphs">41.500</text>
<text x="1007.1" y="177.0" font-size="11" fill="#2a2e39" text-anchor="end" textLength="32.3" lengthAdjust="spacingAndGlyphs">41.000</text>
<text x="1007.1" y="247.0" font-size="11" fill="#2a2e39" text-anchor="end" textLength="32.3" lengthAdjust="spacingAndGlyphs">40.000</text>
<text x="1007.1" y="282.0" font-size="11" fill="#2a2e39" text-anchor="end" textLength="32.3" lengthAdjust="spacingAndGlyphs">39.500</text>
<text x="1007.1" y="317.0" font-size="11" fill="#2a2e39" text-anchor="end" textLength="32.3" lengthAdjust="spacingAndGlyphs">39.000</text>
<text x="1007.1" y="352.0" font-size="11" fill="#2a2e39" text-anchor="end" textLength="32.3" lengthAdjust="spacingAndGlyphs">38.500</text>
<text x="1007.1" y="387.0" font-size="11" fill="#2a2e39" text-anchor="end" textLength="32.3" lengthAdjust="spacingAndGlyphs">38.000</text>
<text x="1007.1" y="422.0" font-size="11" fill="#2a2e39" text-anchor="end" textLength="32.3" lengthAdjust="spacingAndGlyphs">37.500</text>
<text x="1007.1" y="457.0" font-size="11" fill="#2a2e39" text-anchor="end" textLength="32.3" lengthAdjust="spacingAndGlyphs">37.000</text>
<text x="1007.1" y="492.0" font-size="11" fill="#2a2e39" text-anchor="end" textLength="32.3" lengthAdjust="spacingAndGlyphs">36.500</text>
<text x="1007.1" y="527.0" font-size="11" fill="#2a2e39" text-anchor="end" textLength="32.3" lengthAdjust="spacingAndGlyphs">36.000</text>
<text x="1007.1" y="562.0" font-size="11" fill="#2a2e39" text-anchor="end" textLength="32.3" lengthAdjust="spacingAndGlyphs">35.500</text>
<rect x="967.3" y="183.6" width="44.5" height="27.7" rx="1.5" fill="#089981"/>
<text x="974.9" y="195" font-size="11" fill="#fff" textLength="32.6" lengthAdjust="spacingAndGlyphs">40.748</text>
<text x="975.1" y="207.8" font-size="11" fill="#fff" textLength="26.8" lengthAdjust="spacingAndGlyphs">46:46</text>
<rect x="967.3" y="568.1" width="41.3" height="14.6" rx="1" fill="#26a69a"/>
<text x="975.7" y="579.7" font-size="11" fill="#fff" textLength="28.4" lengthAdjust="spacingAndGlyphs">2.72K</text>
<text x="66.5" y="599.8" font-size="11" font-weight="normal" fill="#2a2e39" text-anchor="middle">12</text>
<text x="195.5" y="599.8" font-size="11" font-weight="normal" fill="#2a2e39" text-anchor="middle">13</text>
<text x="324.5" y="599.8" font-size="11" font-weight="normal" fill="#2a2e39" text-anchor="middle">14</text>
<text x="453.5" y="599.8" font-size="11" font-weight="normal" fill="#2a2e39" text-anchor="middle">15</text>
<text x="582.5" y="599.8" font-size="11" font-weight="bold" fill="#2a2e39" text-anchor="middle">16</text>
<text x="711.5" y="599.8" font-size="11" font-weight="normal" fill="#2a2e39" text-anchor="middle">17</text>
<text x="840.5" y="599.8" font-size="11" font-weight="normal" fill="#2a2e39" text-anchor="middle">18</text>
<circle cx="910.3" cy="571" r="8.7" fill="#fff" stroke="#8e3ac0" stroke-width="1.4"/>
<path d="M912.2 565.9 L914.2 565.9 L911.0 570.1 L914.1 570.1 L908.6 576.3 L906.7 576.3 L909.8 572.0 L906.6 572.0 Z" fill="#8e3ac0"/>
<text x="16.7" y="42.1" font-size="11" fill="#2a2e39" textLength="162.9" lengthAdjust="spacingAndGlyphs">Hyperliquid / Tether · 1h · KuCoin</text>
<text x="187" y="42.1" font-size="11" fill="#2a2e39" textLength="6.7" lengthAdjust="spacingAndGlyphs">O</text>
<text x="194.1" y="42.1" font-size="11" fill="#1ea38b" textLength="31.9" lengthAdjust="spacingAndGlyphs">40.575</text>
<text x="233.6" y="42.1" font-size="11" fill="#2a2e39" textLength="5.8" lengthAdjust="spacingAndGlyphs">H</text>
<text x="239.8" y="42.1" font-size="11" fill="#1ea38b" textLength="31.9" lengthAdjust="spacingAndGlyphs">40.875</text>
<text x="279.3" y="42.1" font-size="11" fill="#2a2e39" textLength="4.4" lengthAdjust="spacingAndGlyphs">L</text>
<text x="284.0" y="42.1" font-size="11" fill="#1ea38b" textLength="31.7" lengthAdjust="spacingAndGlyphs">40.183</text>
<text x="322.7" y="42.1" font-size="11" fill="#2a2e39" textLength="6.3" lengthAdjust="spacingAndGlyphs">C</text>
<text x="329.4" y="42.1" font-size="11" fill="#1ea38b" textLength="31.5" lengthAdjust="spacingAndGlyphs">40.748</text>
<text x="368.1" y="42.1" font-size="11" fill="#1ea38b" textLength="30.3" lengthAdjust="spacingAndGlyphs">+0.171</text>
<text x="403.1" y="42.1" font-size="11" fill="#1ea38b" textLength="40.6" lengthAdjust="spacingAndGlyphs">(+0.42%)</text>
<text x="16.7" y="57" font-size="11" fill="#2a2e39" textLength="49.2" lengthAdjust="spacingAndGlyphs">Vol · HYPE</text>
<text x="72.9" y="57" font-size="11" fill="#1ea38b" textLength="28.5" lengthAdjust="spacingAndGlyphs">2.72 K</text>
<path d="M11.15 627.9 H21.7 V641.1 H16.4 V632.6 H11.15 Z" fill="#131722"/>
<circle cx="26.4" cy="630.5" r="2.6" fill="#131722"/>
<path d="M30.5 627.9 H37.8 L33.1 641.1 H26.7 Z" fill="#131722"/>
<text x="44.25" y="641.1" font-size="18.1" font-weight="bold" fill="#131722" textLength="108" lengthAdjust="spacingAndGlyphs">TradingView</text>
</svg></body></html>
